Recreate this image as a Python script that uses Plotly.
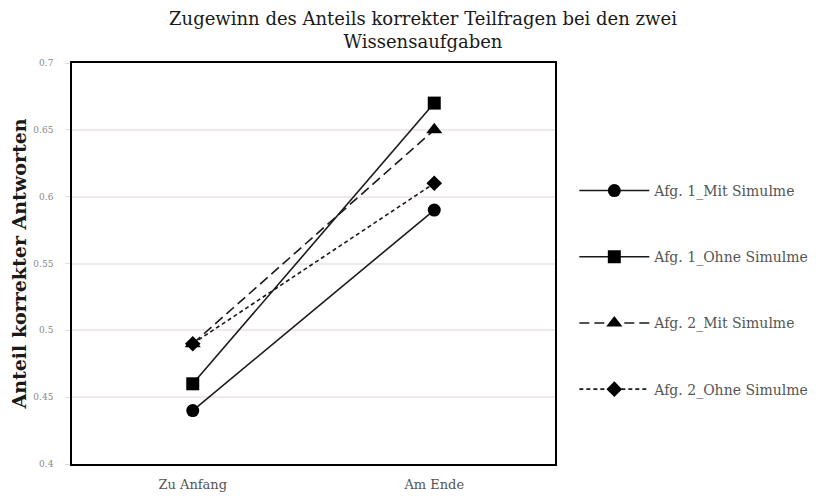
import plotly.graph_objects as go

categories = ["Zu Anfang", "Am Ende"]
series_names = ["Afg. 1_Mit Simulme", "Afg. 1_Ohne Simulme", "Afg. 2_Mit Simulme", "Afg. 2_Ohne Simulme"]
afg1_mit = [0.44, 0.59]
afg1_ohne = [0.46, 0.67]
afg2_mit = [0.49, 0.65]
afg2_ohne = [0.49, 0.61]
y_ticks = [0.4, 0.45, 0.5, 0.55, 0.6, 0.65, 0.7]
y_tick_labels = ["0.4", "0.45", "0.5", "0.55", "0.6", "0.65", "0.7"]

styles = [
    dict(symbol="circle", size=13, dash="solid"),
    dict(symbol="square", size=13, dash="solid"),
    dict(symbol="triangle-up", size=14, dash="10px,5px"),
    dict(symbol="diamond", size=12, dash="4px,3px"),
]
values = [afg1_mit, afg1_ohne, afg2_mit, afg2_ohne]

SERIF = "DejaVu Serif, Liberation Serif, serif"
fig = go.Figure()
for i, (name, vals, st) in enumerate(zip(series_names, values, styles)):
    fig.add_trace(go.Scatter(
        x=categories, y=vals, name=name, mode="lines+markers",
        line=dict(color="#1a1a1a", width=1.6, dash=st["dash"]),
        marker=dict(symbol=st["symbol"], size=st["size"], color="#000000"),
        legendgroup=f"g{i}",
    ))

fig.update_layout(
    width=825, height=496,
    margin=dict(l=64, r=278, t=55, b=40),
    paper_bgcolor="white", plot_bgcolor="white",
    font=dict(family=SERIF, color="#333"),
    title=dict(
        text="Zugewinn des Anteils korrekter Teilfragen bei den zwei<br>Wissensaufgaben",
        x=0.503, xanchor="center", y=0.966, yanchor="top",
        font=dict(size=18, color="#1a1a1a", family=SERIF),
    ),
    showlegend=True,
    legend=dict(
        x=1.04, xanchor="left", y=0.434, yanchor="middle",
        font=dict(size=14, color="#555", family=SERIF),
        tracegroupgap=45, itemwidth=70,
        bgcolor="rgba(0,0,0,0)",
    ),
    xaxis=dict(
        type="category", range=[-0.5, 1.5],
        showline=True, linecolor="#000", linewidth=1.6, mirror=True,
        showgrid=False, ticks="", ticklabelstandoff=8,
        tickfont=dict(size=13, color="#555", family=SERIF),
        automargin=False,
    ),
    yaxis=dict(
        range=[0.4, 0.7], tickvals=y_ticks, ticktext=y_tick_labels,
        showline=True, linecolor="#000", linewidth=1.6, mirror=True,
        showgrid=True, gridcolor="#f0e9e9", gridwidth=2,
        ticks="outside", ticklen=5, tickcolor="#ddd", ticklabelstandoff=10,
        tickfont=dict(size=9, color="#888", family=SERIF),
        title=dict(text="<b>Anteil korrekter Antworten</b>", font=dict(size=19, color="#1a1a1a", family=SERIF), standoff=10),
        zeroline=False, automargin=False,
    ),
)

fig.write_html("out.html")
